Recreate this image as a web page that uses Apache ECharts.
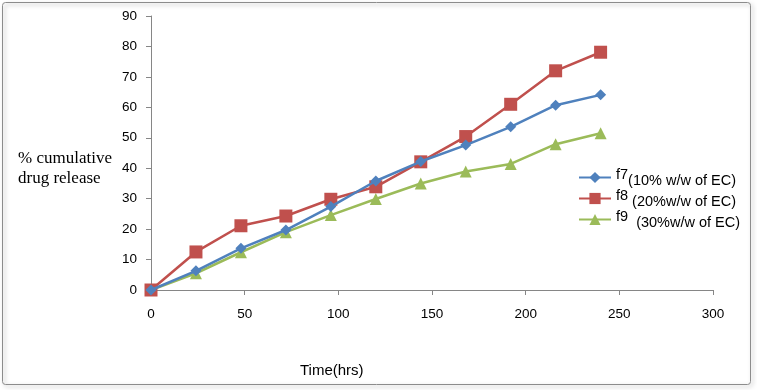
<!DOCTYPE html>
<html><head><meta charset="utf-8">
<script src="https://cdn.jsdelivr.net/npm/echarts@6/dist/echarts.min.js"></script>
<style>html,body{margin:0;padding:0;background:#fff}#c{width:757px;height:390px}</style>
</head><body><div id="c"></div>
<script>
const times = [0, 24, 48, 72, 96, 120, 144, 168, 192, 216, 240];
const f7 = [0, 6.3, 13.7, 19.7, 27.4, 35.8, 42.2, 47.6, 53.6, 60.7, 64.1];
const f8 = [0, 12.5, 21.1, 24.3, 29.8, 33.9, 42.1, 50.4, 61, 72, 78.1];
const f9 = [0, 5.5, 12.4, 19, 24.6, 29.9, 35, 38.9, 41.4, 47.9, 51.5];
const seriesNames = ['f7', 'f8', 'f9'];
const seriesNotes = ['(10% w/w of EC)', ' (20%w/w of EC)', '  (30%w/w of EC)'];
const colors = ['#4F81BD', '#C0504D', '#9BBB59'];
const symbols = ['diamond', 'rect', 'triangle'];
const symbolSizes = [11, 13, 12];
const allData = [f7, f8, f9];

const chart = echarts.init(document.getElementById('c'));
const axisFont = {fontFamily: 'Liberation Sans', fontSize: 13.5, color: '#000'};
chart.setOption({
  animation: false,
  graphic: [{
    type: 'rect', shape: {x: 2.5, y: 2.5, width: 748, height: 382, r: 3},
    style: {fill: 'none', stroke: '#8c8c8c', lineWidth: 1, shadowBlur: 4, shadowColor: 'rgba(0,0,0,0.35)', shadowOffsetX: 2, shadowOffsetY: 2},
    z: -10
  }],
  title: [
    {text: '% cumulative\ndrug release', left: 13, top: 144,
     textStyle: {fontFamily: 'Liberation Serif', fontSize: 17, fontWeight: 'normal', color: '#000', lineHeight: 20}},
    {text: 'Time(hrs)', left: 295, top: 358,
     textStyle: {fontFamily: 'Liberation Sans', fontSize: 15, fontWeight: 'normal', color: '#000'}}
  ],
  grid: {left: 151, right: 44, top: 16, bottom: 100, containLabel: false},
  legend: {
    orient: 'vertical', left: 573, top: 162, itemWidth: 32, itemHeight: 14, itemGap: 0,
    data: seriesNames,
    formatter: function (name) {
      const i = seriesNames.indexOf(name);
      return '{a|' + name + '}{b|' + seriesNotes[i] + '}';
    },
    textStyle: {
      rich: {
        a: {fontFamily: 'Liberation Sans', fontSize: 14.5, lineHeight: 15, color: '#000', padding: [0, 0, 5, 0]},
        b: {fontFamily: 'Liberation Sans', fontSize: 14.5, lineHeight: 15, color: '#000', padding: [6, 0, 0, 0]}
      }
    }
  },
  xAxis: {
    type: 'value', min: 0, max: 300, interval: 50,
    axisLine: {lineStyle: {color: '#868686'}},
    axisTick: {show: true, length: 5, lineStyle: {color: '#868686'}},
    axisLabel: Object.assign({margin: 17}, axisFont),
    splitLine: {show: false}
  },
  yAxis: {
    type: 'value', min: 0, max: 90, interval: 10,
    axisLine: {show: true, lineStyle: {color: '#868686'}},
    axisTick: {show: true, length: 5, lineStyle: {color: '#868686'}},
    axisLabel: Object.assign({margin: 14}, axisFont),
    splitLine: {show: false}
  },
  series: seriesNames.map((n, i) => ({
    name: n, type: 'line',
    data: times.map((t, k) => [t, allData[i][k]]),
    symbol: symbols[i], symbolSize: symbolSizes[i],
    lineStyle: {color: colors[i], width: 2.5},
    itemStyle: {color: colors[i]},
    z: 3 - i
  }))
});
</script></body></html>
